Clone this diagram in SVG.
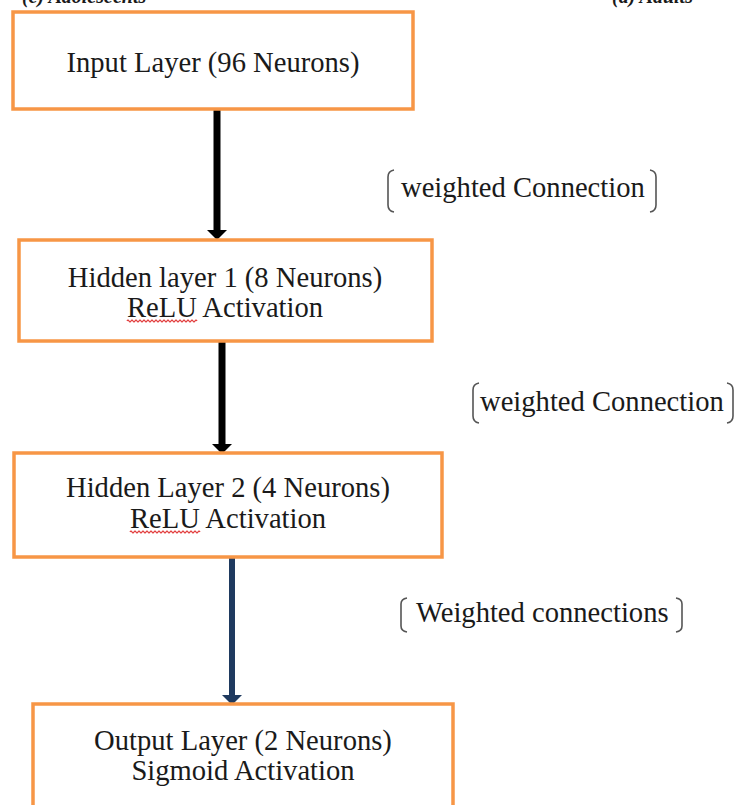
<svg xmlns="http://www.w3.org/2000/svg" width="737" height="805" viewBox="0 0 737 805">
<style>
.box{fill:#ffffff;stroke:#F79646;stroke-width:3.5}
.t{font-family:"Liberation Serif","Times New Roman",serif;font-size:28.6px;fill:#1a1a1a}
.c{text-anchor:middle}
.br{fill:none;stroke:#555555;stroke-width:1.6}
.sq{fill:none;stroke:#e03030;stroke-width:1.2}
.cap{font-family:"Liberation Serif","Times New Roman",serif;font-size:20px;font-style:italic;font-weight:bold;fill:#1a1a1a}
</style>
<defs>
<marker id="ahk" viewBox="0 0 10 20" refX="0" refY="10" markerWidth="10" markerHeight="20" markerUnits="userSpaceOnUse" orient="auto"><path d="M0,0 L10,10 L0,20 z" fill="#000000"/></marker>
<marker id="ahn" viewBox="0 0 10 20" refX="0" refY="10" markerWidth="10" markerHeight="20" markerUnits="userSpaceOnUse" orient="auto"><path d="M0,0 L10,10 L0,20 z" fill="#1F3A5F"/></marker>
</defs>
<rect width="737" height="805" fill="#ffffff"/>
<text class="cap" x="22" y="3">(c) Adolescents</text>
<text class="cap" x="612" y="3">(d) Adults</text>
<g id="connectors">
<line x1="217" y1="110" x2="217" y2="230" stroke="#000000" stroke-width="7" marker-end="url(#ahk)"/>
<line x1="222" y1="342" x2="222" y2="444" stroke="#000000" stroke-width="7" marker-end="url(#ahk)"/>
<line x1="232" y1="558" x2="232" y2="695" stroke="#1F3A5F" stroke-width="6" marker-end="url(#ahn)"/>
</g>
<g id="label1">
<path class="br" d="M394,170 Q388,171 388,177 L388,205 Q388,211 394,212"/>
<path class="br" d="M650,170 Q656,171 656,177 L656,205 Q656,211 650,212"/>
<text class="t" x="401" y="197">weighted Connection</text>
</g>
<g id="label2">
<path class="br" d="M479,383 Q473,384 473,390 L473,416 Q473,422 479,423"/>
<path class="br" d="M727,383 Q733,384 733,390 L733,416 Q733,422 727,423"/>
<text class="t" x="480" y="411">weighted Connection</text>
</g>
<g id="label3">
<path class="br" d="M407,598 Q401,599 401,604 L401,626 Q401,631 407,632"/>
<path class="br" d="M676,598 Q682,599 682,604 L682,626 Q682,631 676,632"/>
<text class="t" x="416" y="622">Weighted connections</text>
</g>
<g id="input">
<rect class="box" x="13" y="12" width="400" height="97"/>
<text class="t c" x="213" y="72">Input Layer (96 Neurons)</text>
</g>
<g id="hidden1">
<rect class="box" x="19" y="240" width="413" height="101"/>
<text class="t c" x="225" y="287">Hidden layer 1 (8 Neurons)</text>
<text class="t c" x="225" y="317">ReLU Activation</text>
<path class="sq" d="M127,321 q1,-2 2,0 t2,0 t2,0 t2,0 t2,0 t2,0 t2,0 t2,0 t2,0 t2,0 t2,0 t2,0 t2,0 t2,0 t2,0 t2,0 t2,0 t2,0 t2,0 t2,0 t2,0 t2,0 t2,0 t2,0 t2,0 t2,0 t2,0 t2,0 t2,0 t2,0 t2,0 t2,0 t2,0 t2,0 t2,0"/>
</g>
<g id="hidden2">
<rect class="box" x="14" y="453" width="428" height="104"/>
<text class="t c" x="228" y="497">Hidden Layer 2 (4 Neurons)</text>
<text class="t c" x="228" y="528">ReLU Activation</text>
<path class="sq" d="M130,532 q1,-2 2,0 t2,0 t2,0 t2,0 t2,0 t2,0 t2,0 t2,0 t2,0 t2,0 t2,0 t2,0 t2,0 t2,0 t2,0 t2,0 t2,0 t2,0 t2,0 t2,0 t2,0 t2,0 t2,0 t2,0 t2,0 t2,0 t2,0 t2,0 t2,0 t2,0 t2,0 t2,0 t2,0 t2,0 t2,0"/>
</g>
<g id="output">
<rect class="box" x="33" y="704" width="420" height="120"/>
<text class="t c" x="243" y="750">Output Layer (2 Neurons)</text>
<text class="t c" x="243" y="780">Sigmoid Activation</text>
</g>
</svg>
